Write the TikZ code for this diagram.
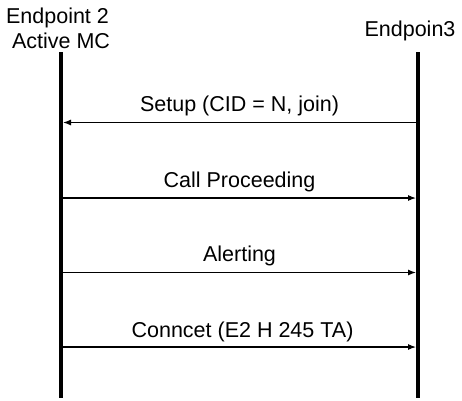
\documentclass[tikz,border=0pt]{standalone}
\usepackage{fontspec}
\setmainfont{Liberation Sans}
\usetikzlibrary{arrows.meta}

\begin{document}
\begin{tikzpicture}[x=1pt,y=-1pt,
  lifeline/.style={line width=4pt},
  msg/.style={line width=1.1pt,-{Latex[length=8pt,width=6pt]},shorten >=2pt,shorten <=2pt},
  lbl/.style={anchor=base,inner sep=0pt,font=\fontsize{21.5}{24}\selectfont}]
\useasboundingbox (0,0) rectangle (462,400);
% lifelines
\coordinate (e2top) at (61,52);
\coordinate (e2bot) at (61,398);
\coordinate (e3top) at (418,52);
\coordinate (e3bot) at (418,398);
\draw[lifeline] (e2top) -- (e2bot);
\draw[lifeline] (e3top) -- (e3bot);
% headers
\node[lbl] (e2name) at (57.5,23) {Endpoint 2};
\node[lbl] (e2role) at (61,48) {Active MC};
\node[lbl] (e3name) at (410,36) {Endpoin3};
% messages
\coordinate (e3setup) at (418,122.5);
\coordinate (e2setup) at (61,122.5);
\draw[msg] (e3setup) -- (e2setup) node[lbl,midway,yshift=11pt] (setup) {Setup (CID = N, join)};
\coordinate (e2proc) at (61,198);
\coordinate (e3proc) at (418,198);
\draw[msg] (e2proc) -- (e3proc) node[lbl,midway,yshift=11pt] (proc) {Call Proceeding};
\coordinate (e2alert) at (61,272.5);
\coordinate (e3alert) at (418,272.5);
\draw[msg] (e2alert) -- (e3alert) node[lbl,midway,yshift=11pt] (alert) {Alerting};
\coordinate (e2conn) at (61,347);
\coordinate (e3conn) at (418,347);
\draw[msg] (e2conn) -- (e3conn) node[lbl,midway,xshift=3pt,yshift=10pt] (conn) {Conncet (E2 H 245 TA)};
\end{tikzpicture}
\end{document}
